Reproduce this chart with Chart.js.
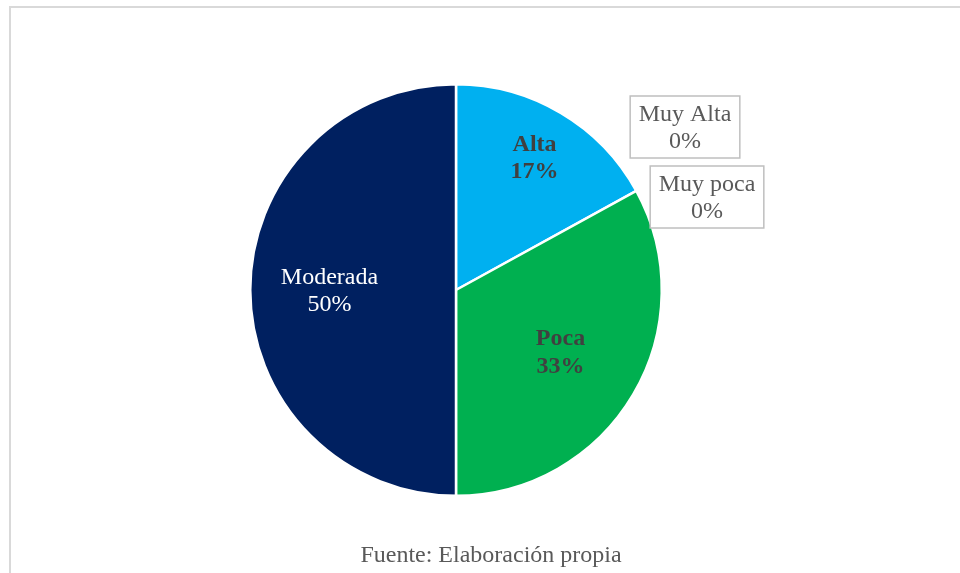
<!DOCTYPE html>
<html>
<head>
<meta charset="utf-8">
<script src="https://cdn.jsdelivr.net/npm/chart.js@4"></script>
<style>
    html, body { margin: 0; padding: 0; background: #fff; overflow: hidden; }
    #wrap { position: relative; width: 960px; height: 573px; }
    #frame { position: absolute; left: 9px; top: 6px; right: -20px; bottom: -20px; border: 2px solid #d9d9d9; }
    #pie { position: absolute; left: 0; top: 0; }
    #fuente {
        position: absolute; left: 0; width: 982px; top: 541px; text-align: center;
        font-family: 'Liberation Serif', 'Times New Roman', serif; font-size: 24px; color: #595959;
    }
</style>
</head>
<body>
<div id="wrap">
    <div id="frame"></div>
    <canvas id="pie" width="960" height="573"></canvas>
    <div id="fuente">Fuente: Elaboración propia</div>
</div>
<script>
// Data (order follows the slices clockwise from 12 o'clock)
const categories = ['Alta', 'Muy Alta', 'Muy poca', 'Poca', 'Moderada'];
const percentages = [17, 0, 0, 33, 50];
const sliceColors = ['#00B0F0', '#00B0F0', '#00B050', '#00B050', '#002060'];

// Label styling per slice
const labelStyle = {
    'Alta':     { frac: 0.75, color: '#404040', bold: true },
    'Poca':     { frac: 0.59, color: '#404040', bold: true },
    'Moderada': { frac: 0.615, color: '#ffffff', bold: false },
    'Muy Alta': { box: true, dx: 229, dy: -163 },
    'Muy poca': { box: true, dx: 251, dy: -93 }
};

const FONT = "'Liberation Serif', 'Times New Roman', serif";

// Draws Excel-like data labels
const pieLabels = {
    id: 'pieLabels',
    afterDatasetsDraw(chart) {
        const ctx = chart.ctx;
        const meta = chart.getDatasetMeta(0);
        ctx.save();
        ctx.textAlign = 'center';
        ctx.textBaseline = 'middle';
        meta.data.forEach((arc, i) => {
            const name = categories[i];
            const st = labelStyle[name];
            const lines = [name, percentages[i] + '%'];
            const p = arc.getProps(['x', 'y', 'startAngle', 'endAngle', 'outerRadius'], true);
            let x, y;
            if (st.box) {
                x = p.x + st.dx;
                y = p.y + st.dy;
            } else {
                const mid = (p.startAngle + p.endAngle) / 2;
                x = p.x + Math.cos(mid) * p.outerRadius * st.frac;
                y = p.y + Math.sin(mid) * p.outerRadius * st.frac;
            }
            ctx.font = (st.bold ? 'bold ' : '') + '24px ' + FONT;
            const lh = 27.5;
            if (st.box) {
                const w = Math.max(...lines.map(l => ctx.measureText(l).width)) + 17;
                const h = 62;
                ctx.fillStyle = '#ffffff';
                ctx.fillRect(x - w / 2, y - h / 2, w, h);
                ctx.strokeStyle = '#bfbfbf';
                ctx.lineWidth = 1.5;
                ctx.strokeRect(x - w / 2, y - h / 2, w, h);
            }
            ctx.fillStyle = st.color || '#595959';
            ctx.fillText(lines[0], x, y - lh / 2 + 1);
            ctx.fillText(lines[1], x, y + lh / 2 + 1);
        });
        ctx.restore();
    }
};

new Chart(document.getElementById('pie'), {
    type: 'pie',
    data: {
        labels: categories,
        datasets: [{
            data: percentages,
            backgroundColor: sliceColors,
            borderColor: '#ffffff',
            borderWidth: 2.5
        }]
    },
    options: {
        responsive: false,
        animation: false,
        layout: { padding: { left: 249, right: 297, top: 83, bottom: 76 } },
        plugins: {
            legend: { display: false },
            tooltip: { enabled: false }
        }
    },
    plugins: [pieLabels]
});
</script>
</body>
</html>
